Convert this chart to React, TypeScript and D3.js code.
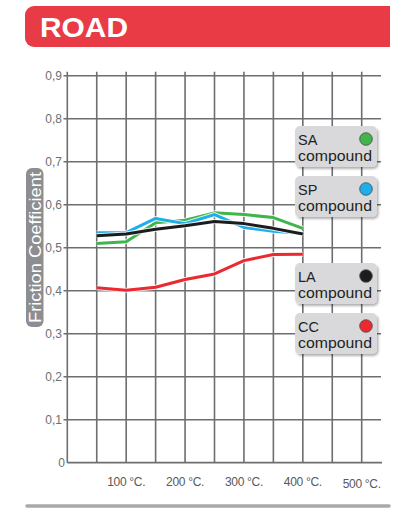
import React from "react";
import * as d3 from "d3";

const temps = [50, 100, 150, 200, 250, 300, 350, 400];
const saValues = [0.51, 0.514, 0.558, 0.564, 0.581, 0.577, 0.57, 0.545];
const spValues = [0.535, 0.535, 0.568, 0.556, 0.577, 0.547, 0.538, 0.533];
const laValues = [0.528, 0.532, 0.543, 0.551, 0.561, 0.556, 0.545, 0.532];
const ccValues = [0.407, 0.401, 0.408, 0.426, 0.439, 0.47, 0.484, 0.485];

const yTicks = [0, 0.1, 0.2, 0.3, 0.4, 0.5, 0.6, 0.7, 0.8, 0.9];
const yTickLabels = ["0", "0,1", "0,2", "0,3", "0,4", "0,5", "0,6", "0,7", "0,8", "0,9"];
const xGrid = [0, 50, 100, 150, 200, 250, 300, 350, 400, 450, 500];
const xLabelTemps = [100, 200, 300, 400, 500];
const xLabels = ["100 °C.", "200 °C.", "300 °C.", "400 °C.", "500 °C."];

const seriesNames = ["SA", "SP", "LA", "CC"];
const seriesColors = ["#3fb54b", "#1eaee9", "#1c1c1c", "#ec2930"];
const seriesData = [saValues, spValues, laValues, ccValues];
const drawOrder = [3, 0, 1, 2];

const W = 416;
const H = 517;

export default function App() {
  const x = d3.scaleLinear().domain([0, 500]).range([67.3, 361.7]);
  const y = d3.scaleLinear().domain([0, 0.9]).range([462.7, 75.7]);
  const line = d3
    .line<number>()
    .x((_, i) => x(temps[i]))
    .y((d) => y(d));

  const gridColor = "#6d6e71";
  const font = "'Liberation Sans', Arial, Helvetica, sans-serif";
  const legendTops = [126, 176, 263, 313];

  const hx0 = 25, hx1 = 390, hy0 = 6, hy1 = 47, hr = 9;
  const headerPath = `M${hx0 + hr},${hy0} H${hx1} V${hy1} H${hx0 + hr} A${hr},${hr} 0 0 1 ${hx0},${hy1 - hr} V${hy0 + hr} A${hr},${hr} 0 0 1 ${hx0 + hr},${hy0} Z`;

  return (
    <svg
      width={W}
      height={H}
      viewBox={`0 0 ${W} ${H}`}
      style={{ position: "absolute", left: 0, top: 0, background: "#fff" }}
      fontFamily={font}
    >
      <defs>
        <filter id="shadow" x="-20%" y="-20%" width="140%" height="150%">
          <feDropShadow dx="1.5" dy="2" stdDeviation="1.2" floodColor="#000" floodOpacity="0.3" />
        </filter>
      </defs>

      {/* header */}
      <path d={headerPath} fill="#e93b45" />
      <text x={40} y={37} fill="#fff" fontSize={28.5} fontWeight="bold" textLength={88} lengthAdjust="spacingAndGlyphs">
        ROAD
      </text>

      {/* horizontal grid */}
      {yTicks.map((t, i) =>
        i === 0 ? null : (
          <line key={"h" + i} x1={63.5} x2={381} y1={y(t)} y2={y(t)} stroke={gridColor} strokeWidth={1.6} />
        )
      )}
      {/* vertical grid */}
      {xGrid.map((t, i) => (
        <line key={"v" + i} x1={x(t)} x2={x(t)} y1={y(0)} y2={y(0.9) - 4} stroke={gridColor} strokeWidth={1.6} />
      ))}
      {/* baseline */}
      <line x1={x(0)} x2={382} y1={y(0)} y2={y(0)} stroke={gridColor} strokeWidth={1.8} />

      {/* y tick labels */}
      {yTicks.map((t, i) => (
        <text key={"yl" + i} x={i === 0 ? 65 : 62} y={y(t) + 4.3} textAnchor="end" fontSize={12} fill="#6d6e71">
          {yTickLabels[i]}
        </text>
      ))}

      {/* x labels */}
      {xLabelTemps.map((t, i) => (
        <text
          key={"xl" + i}
          x={x(t)}
          y={i === 4 ? 487.5 : 485.5}
          textAnchor="middle"
          fontSize={12}
          letterSpacing={-0.3}
          fill="#58595b"
        >
          {xLabels[i]}
        </text>
      ))}

      {/* y axis label */}
      <rect x={26} y={168} width={17.5} height={159} rx={6} fill="#8d8e91" />
      <text
        transform={`translate(40.5,${(168 + 327) / 2}) rotate(-90)`}
        textAnchor="middle"
        fontSize={16.5}
        fill="#fff"
        textLength={151}
        lengthAdjust="spacingAndGlyphs"
      >
        Friction Coefficient
      </text>

      {/* series lines */}
      {drawOrder.map((si) => (
        <g key={"s" + si}>
          <path d={line(seriesData[si]) || ""} fill="none" stroke="#fff" strokeOpacity={0.8} strokeWidth={5} strokeLinejoin="round" />
          <path d={line(seriesData[si]) || ""} fill="none" stroke={seriesColors[si]} strokeWidth={3} strokeLinejoin="round" />
        </g>
      ))}

      {/* legend boxes */}
      {seriesNames.map((name, i) => (
        <g key={"lg" + i}>
          <rect x={295} y={legendTops[i]} width={82} height={41} rx={5} fill="#d9d9db" filter="url(#shadow)" />
          <text x={298} y={legendTops[i] + 18.5} fontSize={14.5} fill="#231f20">
            {name}
          </text>
          <text x={298} y={legendTops[i] + 34.5} fontSize={14.5} fill="#231f20" textLength={74} lengthAdjust="spacingAndGlyphs">
            compound
          </text>
          <circle cx={366} cy={legendTops[i] + 13} r={6.3} fill={seriesColors[i]} stroke="#4a4a4a" strokeWidth={0.8} />
        </g>
      ))}

      {/* bottom rule */}
      <line x1={27} x2={389} y1={506} y2={506} stroke="#a7a9ac" strokeWidth={3.5} strokeLinecap="round" />
    </svg>
  );
}
